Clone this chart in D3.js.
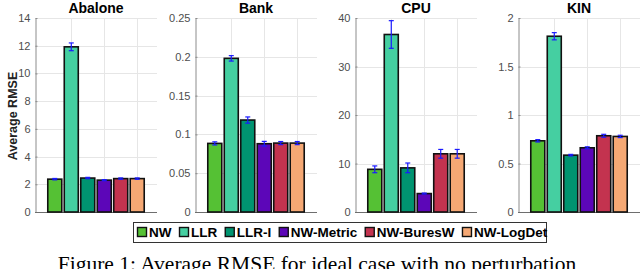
<!DOCTYPE html>
<html>
<head>
<meta charset="utf-8">
<script src="https://cdnjs.cloudflare.com/ajax/libs/d3/7.8.5/d3.min.js"></script>
<style>
  body { margin: 0; background: #fff; }
  svg { display: block; font-family: "Liberation Sans", Arial, sans-serif; }
  .grid line { stroke: #e6e6e6; stroke-width: 1; }
  .tick text { fill: #4d4d4d; font-size: 11px; }
</style>
</head>
<body>
<svg width="640" height="269"></svg>
<script>
// data
var methods = ["NW", "LLR", "LLR-I", "NW-Metric", "NW-BuresW", "NW-LogDet"];
var colors = ["#55c134", "#45cfa1", "#009470", "#5c06b8", "#c3334f", "#f5a874"];

var datasets = ["Abalone", "Bank", "CPU", "KIN"];
var means = [
  [2.37, 11.92, 2.45, 2.30, 2.41, 2.41],
  [0.0884, 0.198, 0.1185, 0.088, 0.0888, 0.0888],
  [8.8, 36.6, 9.1, 3.8, 12.0, 12.0],
  [0.734, 1.812, 0.586, 0.662, 0.786, 0.779]
];
var errs = [
  [0.05, 0.28, 0.05, 0.04, 0.05, 0.05],
  [0.002, 0.0035, 0.004, 0.003, 0.002, 0.002],
  [0.7, 2.85, 1.0, 0.1, 0.9, 0.9],
  [0.012, 0.037, 0.008, 0.01, 0.015, 0.012]
];
var yMax = [14, 0.25, 40, 2];
var yStep = [2, 0.05, 10, 0.5];

var svg = d3.select("svg");

var panelLeft = [35, 195, 355, 518],
    panelW = 122,
    plotTop = 18, plotBottom = 212;

var fmt = function(d) { return String(+d.toFixed(3)); };

datasets.forEach(function(name, p) {
  var g = svg.append("g").attr("transform", "translate(" + panelLeft[p] + ",0)");

  var x = d3.scaleLinear().domain([-0.2, 7.2]).range([0, panelW]);
  var y = d3.scaleLinear().domain([0, yMax[p]]).range([plotBottom, plotTop]);
  var yt = d3.range(0, yMax[p] + yStep[p] / 2, yStep[p]);

  var grid = g.append("g").attr("class", "grid");
  grid.selectAll(".h").data(yt.slice(1)).enter().append("line")
    .attr("x1", 0).attr("x2", panelW)
    .attr("y1", function(d) { return Math.round(y(d)) + 0.5; })
    .attr("y2", function(d) { return Math.round(y(d)) + 0.5; });
  grid.selectAll(".v").data([2, 4, 6]).enter().append("line")
    .attr("x1", function(d) { return Math.round(x(d)) + 0.5; })
    .attr("x2", function(d) { return Math.round(x(d)) + 0.5; })
    .attr("y1", plotTop).attr("y2", plotBottom);

  var yAxis = g.append("g").attr("transform", "translate(0.5,0)")
    .call(d3.axisLeft(y).tickValues(yt).tickFormat(fmt).tickSizeInner(-2).tickSizeOuter(0).tickPadding(5));
  yAxis.select(".domain").attr("stroke", "#8c8c8c");
  yAxis.selectAll(".tick line").attr("stroke", "#8c8c8c");

  g.append("line")
    .attr("x1", 0).attr("x2", panelW)
    .attr("y1", plotBottom + 0.5).attr("y2", plotBottom + 0.5)
    .attr("stroke", "#6e6e6e").attr("stroke-width", 1.2);

  var bw = x(0.85) - x(0);
  var bars = g.selectAll(".bar").data(means[p]).enter().append("g");
  bars.append("rect")
    .attr("x", function(d, i) { return x(i + 1) - bw / 2; })
    .attr("y", function(d) { return y(d); })
    .attr("width", bw)
    .attr("height", function(d) { return plotBottom - y(d); })
    .attr("fill", function(d, i) { return colors[i]; })
    .attr("stroke", "#111").attr("stroke-width", 1.6);

  var eb = g.selectAll(".err").data(means[p]).enter().append("g")
    .attr("stroke", "#1a1aff").attr("stroke-width", 1.2);
  eb.append("line")
    .attr("x1", function(d, i) { return x(i + 1); })
    .attr("x2", function(d, i) { return x(i + 1); })
    .attr("y1", function(d, i) { return y(d + errs[p][i]); })
    .attr("y2", function(d, i) { return y(d - errs[p][i]); });
  [1, -1].forEach(function(s) {
    eb.append("line")
      .attr("x1", function(d, i) { return x(i + 1) - 2.5; })
      .attr("x2", function(d, i) { return x(i + 1) + 2.5; })
      .attr("y1", function(d, i) { return y(d + s * errs[p][i]); })
      .attr("y2", function(d, i) { return y(d + s * errs[p][i]); });
  });

  g.append("text")
    .attr("x", panelW / 2).attr("y", 13)
    .attr("text-anchor", "middle")
    .style("font-weight", "bold").style("font-size", "14px")
    .text(name);
});

svg.append("text")
  .attr("transform", "translate(17,116) rotate(-90)")
  .attr("text-anchor", "middle")
  .style("font-weight", "bold").style("font-size", "12.5px")
  .style("fill", "#222")
  .text("Average RMSE");

// legend
var leg = svg.append("g");
var lx = 137;
methods.forEach(function(m, i) {
  var it = leg.append("g").attr("transform", "translate(" + lx + ",0)");
  it.append("rect").attr("x", 0.5).attr("y", 227.5).attr("width", 9).attr("height", 9)
    .attr("fill", colors[i]).attr("stroke", "#111").attr("stroke-width", 1.4);
  var t = it.append("text").attr("x", 12).attr("y", 237)
    .style("font-weight", "bold").style("font-size", "13.5px").text(m);
  lx += 12 + t.node().getComputedTextLength() + 7.5;
});
leg.insert("rect", ":first-child")
  .attr("x", 133.5).attr("y", 222.5).attr("width", 413).attr("height", 20)
  .attr("fill", "#fff").attr("stroke", "#333").attr("stroke-width", 1);

svg.append("text")
  .attr("x", 317).attr("y", 271)
  .attr("text-anchor", "middle")
  .style("font-family", "'Liberation Serif', 'Times New Roman', serif")
  .style("font-size", "21.5px")
  .text("Figure 1: Average RMSE for ideal case with no perturbation");
</script>
</body>
</html>
